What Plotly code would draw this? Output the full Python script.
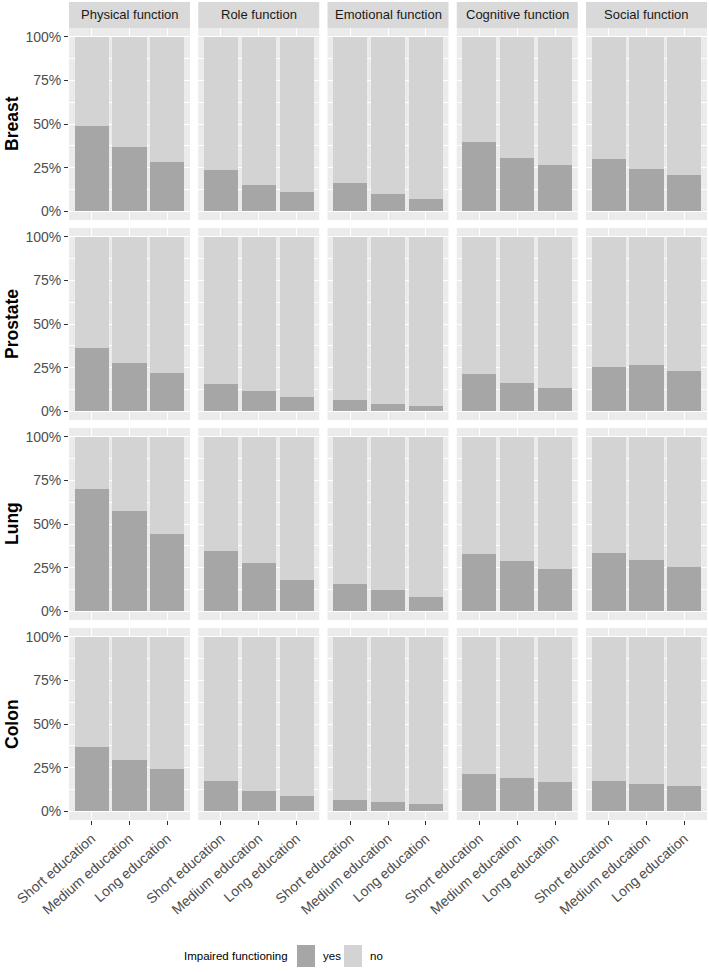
import plotly.graph_objects as go
from plotly.subplots import make_subplots

# ---------------- data ----------------
cancers = ["Breast", "Prostate", "Lung", "Colon"]
functions = ["Physical function", "Role function", "Emotional function",
             "Cognitive function", "Social function"]
education = ["Short education", "Medium education", "Long education"]
y_ticks = [0, 25, 50, 75, 100]
y_tick_labels = ["0%", "25%", "50%", "75%", "100%"]
legend_title = "Impaired functioning"
legend_labels = ["yes", "no"]

# % impaired ("yes"), per function (Physical, Role, Emotional, Cognitive, Social)
breast_yes = [[48.6, 37.0, 28.0], [23.8, 15.2, 11.0], [16.0, 9.9, 6.9],
              [39.8, 30.7, 26.5], [30.1, 24.2, 20.6]]
prostate_yes = [[36.2, 27.4, 22.1], [15.8, 11.6, 8.2], [6.3, 4.2, 3.0],
                [21.5, 16.2, 13.5], [25.5, 26.5, 23.2]]
lung_yes = [[70.1, 57.5, 44.4], [34.3, 27.6, 17.7], [15.6, 12.0, 8.0],
            [32.6, 29.0, 24.4], [33.3, 29.3, 25.3]]
colon_yes = [[37.1, 29.5, 24.2], [17.1, 11.6, 9.0], [6.3, 5.1, 4.4],
             [21.1, 18.9, 16.8], [17.1, 15.8, 14.7]]

all_yes = [breast_yes, prostate_yes, lung_yes, colon_yes]

# ---------------- style ----------------
W, H = 709, 972
FONT = "Liberation Sans, Arial, sans-serif"
C_YES = "#A6A6A6"
C_NO = "#D3D3D3"
PANEL_BG = "#EBEBEB"
STRIP_BG = "#D9D9D9"

def px(x):
    return x / W

def py(y):
    return 1 - y / H

col_left = [69, 198.25, 327.5, 456.75, 586]
col_w = 121
row_top = [28, 228, 428, 628]
row_h = 192

fig = make_subplots(rows=4, cols=5, horizontal_spacing=0.01, vertical_spacing=0.01)

for r in range(4):
    for c in range(5):
        yes = all_yes[r][c]
        no = [100 - v for v in yes]
        fig.add_trace(go.Bar(x=education, y=yes, name=legend_labels[0],
                             marker=dict(color=C_YES, line=dict(width=0)),
                             width=0.9, showlegend=False, hoverinfo="skip"),
                      row=r + 1, col=c + 1)
        fig.add_trace(go.Bar(x=education, y=no, name=legend_labels[1],
                             marker=dict(color=C_NO, line=dict(width=0)),
                             width=0.9, showlegend=False, hoverinfo="skip"),
                      row=r + 1, col=c + 1)
        fig.update_xaxes(
            domain=[px(col_left[c]), px(col_left[c] + col_w)],
            automargin=False,
            type="category", categoryorder="array", categoryarray=education,
            range=[-0.6, 2.6], showgrid=True, gridcolor="white", gridwidth=1.1,
            zeroline=False, showline=False,
            showticklabels=(r == 3), ticks="outside" if r == 3 else "",
            ticklen=4, tickwidth=1, tickcolor="#333333",
            tickangle=-41, tickfont=dict(family=FONT, size=14, color="#4D4D4D"),
            row=r + 1, col=c + 1)
        fig.update_yaxes(
            domain=[py(row_top[r] + row_h), py(row_top[r])],
            automargin=False,
            range=[-5, 105], tickmode="array", tickvals=y_ticks, ticktext=y_tick_labels,
            showgrid=True, gridcolor="white", gridwidth=1.1,
            minor=dict(tickmode="array", tickvals=[12.5, 37.5, 62.5, 87.5],
                       showgrid=True, gridcolor="white", gridwidth=0.5, ticks=""),
            zeroline=False, showline=False,
            showticklabels=(c == 0), ticks="outside" if c == 0 else "",
            ticklen=4, tickwidth=1, tickcolor="#333333",
            tickfont=dict(family=FONT, size=14, color="#4D4D4D"),
            row=r + 1, col=c + 1)

shapes = []
annotations = []

# strips (facet column titles)
for c, name in enumerate(functions):
    shapes.append(dict(type="rect", xref="paper", yref="paper",
                       x0=px(col_left[c]), x1=px(col_left[c] + col_w),
                       y0=py(28), y1=py(2), fillcolor=STRIP_BG, line=dict(width=0),
                       layer="below"))
    annotations.append(dict(text=name, xref="paper", yref="paper",
                            x=px(col_left[c] + col_w / 2), y=py(15),
                            xanchor="center", yanchor="middle", showarrow=False,
                            font=dict(family=FONT, size=13, color="#1A1A1A")))

# row labels
for r, name in enumerate(cancers):
    annotations.append(dict(text="<b>" + name + "</b>", xref="paper", yref="paper",
                            x=px(12), y=py(row_top[r] + row_h / 2),
                            xanchor="center", yanchor="middle", textangle=-90,
                            showarrow=False,
                            font=dict(family=FONT, size=17.5, color="#000000")))

# legend (drawn manually to match ggplot key sizes)
ly = 956
annotations.append(dict(text=legend_title, xref="paper", yref="paper",
                        x=px(290), y=py(ly), xanchor="right", yanchor="middle",
                        showarrow=False,
                        font=dict(family=FONT, size=11.5, color="#000000")))
key_x = [297, 344]
key_cols = [C_YES, C_NO]
for i, lab in enumerate(legend_labels):
    shapes.append(dict(type="rect", xref="paper", yref="paper",
                       x0=px(key_x[i]), x1=px(key_x[i] + 18),
                       y0=py(ly + 11), y1=py(ly - 11),
                       fillcolor=key_cols[i], line=dict(width=0)))
    annotations.append(dict(text=lab, xref="paper", yref="paper",
                            x=px(key_x[i] + 24), y=py(ly), xanchor="left",
                            yanchor="middle", showarrow=False,
                            font=dict(family=FONT, size=11.5, color="#000000")))

fig.update_layout(
    template="none",
    width=W, height=H, autosize=False,
    margin=dict(l=0, r=0, t=0, b=0, autoexpand=False),
    paper_bgcolor="white", plot_bgcolor=PANEL_BG,
    barmode="stack", bargap=0.1, showlegend=False,
    shapes=shapes, annotations=annotations,
    font=dict(family=FONT),
)

# remove the default 8px page margin so the figure fills the window exactly
fig.write_html("out.html",
               config={"displayModeBar": False},
               post_script="document.body.style.margin='0';"
                           "document.body.style.overflow='hidden';")
